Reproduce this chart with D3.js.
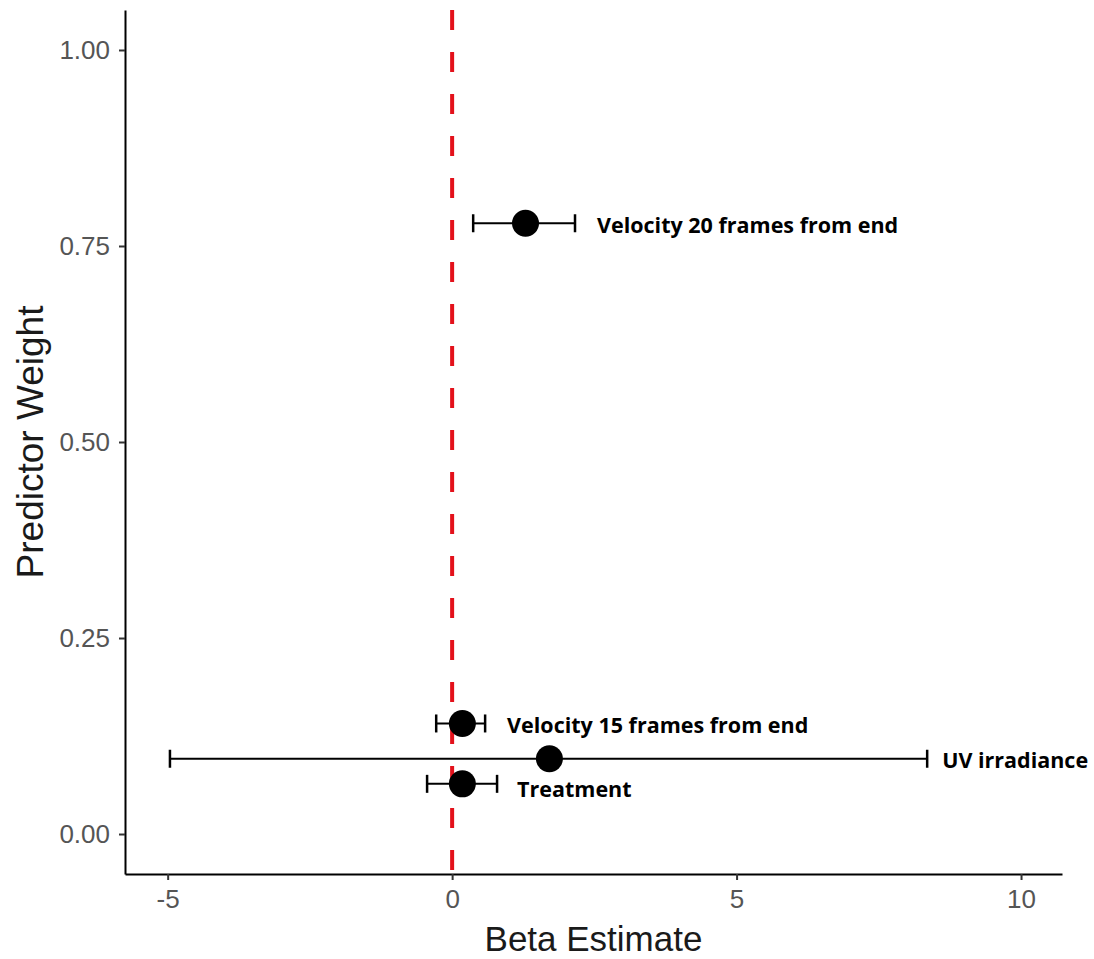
<!DOCTYPE html>
<html>
<head>
<meta charset="utf-8">
<script src="https://cdn.jsdelivr.net/npm/d3@7"></script>
<style>
  html, body { margin: 0; padding: 0; background: #fff; }
  svg { display: block; }
</style>
</head>
<body>
<svg id="chart" width="1094" height="959"></svg>
<script>
// Model-averaged predictors: beta estimate with 95% CI against predictor weight
const predictors = ["Velocity 20 frames from end", "Velocity 15 frames from end", "UV irradiance", "Treatment"];
const betaEstimate = [1.29, 0.18, 1.71, 0.18];
const ciLower = [0.37, -0.28, -4.96, -0.44];
const ciUpper = [2.16, 0.58, 8.35, 0.79];
const predictorWeight = [0.779, 0.141, 0.096, 0.064];

const xTicks = [-5, 0, 5, 10];
const yTicks = [0, 0.25, 0.5, 0.75, 1];

const data = predictors.map((name, i) => ({
  name, beta: betaEstimate[i], lo: ciLower[i], hi: ciUpper[i], w: predictorWeight[i]
}));

const svg = d3.select("#chart");
const margin = { left: 125, right: 32, top: 10, bottom: 85 };
const width = 1094, height = 959;

const x = d3.scaleLinear().domain([-5.75, 10.72]).range([margin.left, width - margin.right]);
const y = d3.scaleLinear().domain([-0.051, 1.051]).range([height - margin.bottom, margin.top]);

// Axes
const xAxis = svg.append("g")
  .attr("transform", `translate(0,${height - margin.bottom})`)
  .call(d3.axisBottom(x).tickValues(xTicks).tickSizeInner(6).tickSizeOuter(0).tickPadding(7)
    .tickFormat(d => String(d)));
const yAxis = svg.append("g")
  .attr("transform", `translate(${margin.left},0)`)
  .call(d3.axisLeft(y).tickValues(yTicks).tickSizeInner(6).tickSizeOuter(0).tickPadding(9)
    .tickFormat(d3.format(".2f")));

[xAxis, yAxis].forEach(g => {
  g.select(".domain").attr("stroke", "#000").attr("stroke-width", 2);
  g.selectAll(".tick line").attr("stroke", "#333").attr("stroke-width", 2);
  g.selectAll(".tick text")
    .attr("fill", "#555")
    .style("font-family", "'Liberation Sans', Arial, sans-serif")
    .style("font-size", "26px");
});
xAxis.selectAll(".tick text").attr("dy", "0.8em");

// Reference line at zero
svg.append("line")
  .attr("x1", x(0)).attr("x2", x(0))
  .attr("y1", margin.top).attr("y2", height - margin.bottom)
  .attr("stroke", "#e3111b")
  .attr("stroke-width", 4)
  .attr("stroke-dasharray", "20,22");

// Error bars
const bars = svg.append("g");
data.forEach(d => {
  const cy = y(d.w);
  bars.append("line")
    .attr("x1", x(d.lo)).attr("x2", x(d.hi))
    .attr("y1", cy).attr("y2", cy)
    .attr("stroke", "#000").attr("stroke-width", 2);
  [d.lo, d.hi].forEach(v => {
    bars.append("line")
      .attr("x1", x(v)).attr("x2", x(v))
      .attr("y1", cy - 9).attr("y2", cy + 9)
      .attr("stroke", "#000").attr("stroke-width", 2.5);
  });
});

// Points
svg.append("g").selectAll("circle")
  .data(data)
  .join("circle")
  .attr("cx", d => x(d.beta))
  .attr("cy", d => y(d.w))
  .attr("r", 13.5)
  .attr("fill", "#000");

// Labels to the right of each interval
const labelOffsets = [22, 22, 15, 20];
const labelDy = [1, 1, 1, 5];
svg.append("g").selectAll("text")
  .data(data)
  .join("text")
  .attr("x", (d, i) => x(d.hi) + labelOffsets[i])
  .attr("y", (d, i) => y(d.w) + labelDy[i])
  .attr("dominant-baseline", "central")
  .style("font-family", "'Open Sans', sans-serif")
  .style("font-weight", "bold")
  .style("font-size", "21.5px")
  .attr("fill", "#000")
  .text(d => d.name);

// Axis titles
svg.append("text")
  .attr("x", (margin.left + width - margin.right) / 2)
  .attr("y", 951)
  .attr("text-anchor", "middle")
  .style("font-family", "'Liberation Sans', Arial, sans-serif")
  .style("font-size", "35px")
  .attr("fill", "#1a1a1a")
  .text("Beta Estimate");

svg.append("text")
  .attr("transform", `translate(43,${(margin.top + height - margin.bottom) / 2}) rotate(-90)`)
  .attr("text-anchor", "middle")
  .style("font-family", "'Liberation Sans', Arial, sans-serif")
  .style("font-size", "37px")
  .attr("fill", "#1a1a1a")
  .text("Predictor Weight");
</script>
</body>
</html>
